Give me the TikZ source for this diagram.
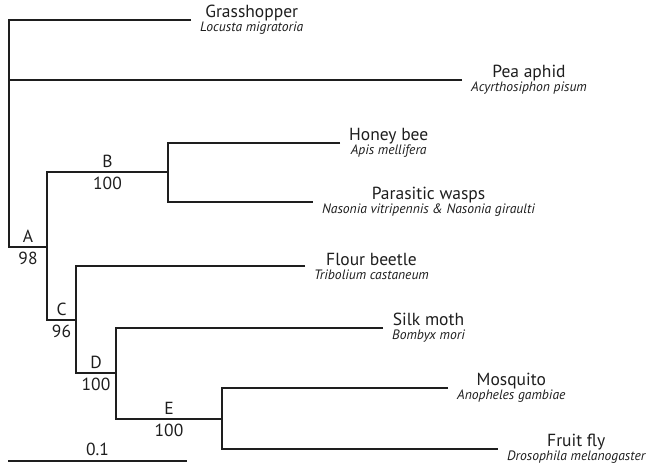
\documentclass[tikz,border=0pt]{standalone}
\usepackage{fontspec}
\setmainfont{PT Sans}
\usepackage{xcolor}
\usepackage{tikz}
\usetikzlibrary{calc}
\definecolor{ink}{HTML}{1E1E1E}
\newcommand{\speciesname}[1]{{\fontsize{13.6}{14}\selectfont\itshape #1}}

\begin{document}
\begin{tikzpicture}[
  x=1pt, y=-1pt,
  font=\fontsize{17.5}{14}\selectfont, text=ink,
  branch/.style={draw=ink, line width=2.6pt},
  leaf/.style={anchor=west, inner xsep=9pt, inner ysep=0pt, align=center},
  support/.style={inner sep=4pt}
]
\useasboundingbox (0,0) rectangle (647,467);
\coordinate (r) at (9,247);
\coordinate (A) at (47,247);
\coordinate (B) at (168,172);
\coordinate (C) at (76,320);
\coordinate (D) at (116,373);
\coordinate (E) at (222,419);
\node[leaf] (grasshopper) at (191,20) {Grasshopper\\\speciesname{Locusta migratoria}};
\node[leaf] (aphid) at (462,80) {Pea aphid\\\speciesname{Acyrthosiphon pisum}};
\node[leaf] (bee) at (340,143) {Honey bee\\\speciesname{Apis mellifera}};
\node[leaf] (wasps) at (313,202) {Parasitic wasps\\\speciesname{Nasonia vitripennis \& Nasonia giraulti}};
\node[leaf] (beetle) at (305,266) {Flour beetle\\\speciesname{Tribolium castaneum}};
\node[leaf] (moth) at (383,328) {Silk moth\\\speciesname{Bombyx mori}};
\node[leaf] (mosquito) at (448,388) {Mosquito\\\speciesname{Anopheles gambiae}};
\node[leaf] (fly) at (498,449) {Fruit fly\\\speciesname{Drosophila melanogaster}};
\draw[branch] (grasshopper.west) -| (r) -- (A);
\draw[branch] (aphid.west) -- (aphid.west -| r);
\draw[branch] (B) -| (A) |- (C);
\draw[branch] (bee.west) -| (B) |- (wasps.west);
\draw[branch] (beetle.west) -| (C) |- (D);
\draw[branch] (moth.west) -| (D) |- (E);
\draw[branch] (mosquito.west) -| (E) |- (fly.west);
\foreach \p/\c/\l/\s in {r/A/A/98, A/B/B/100, A/C/C/96, C/D/D/100, D/E/E/100}
  \path (\p |- \c) -- node[support, above] (lab\l) {\l} node[support, below=1pt] (bs\l) {\s} (\c);
\coordinate (s0) at (8,461);
\coordinate (s1) at (187,461);
\draw[branch] (s0) -- node[support, above=0pt] (scale) {0.1} (s1);
\end{tikzpicture}
\end{document}
